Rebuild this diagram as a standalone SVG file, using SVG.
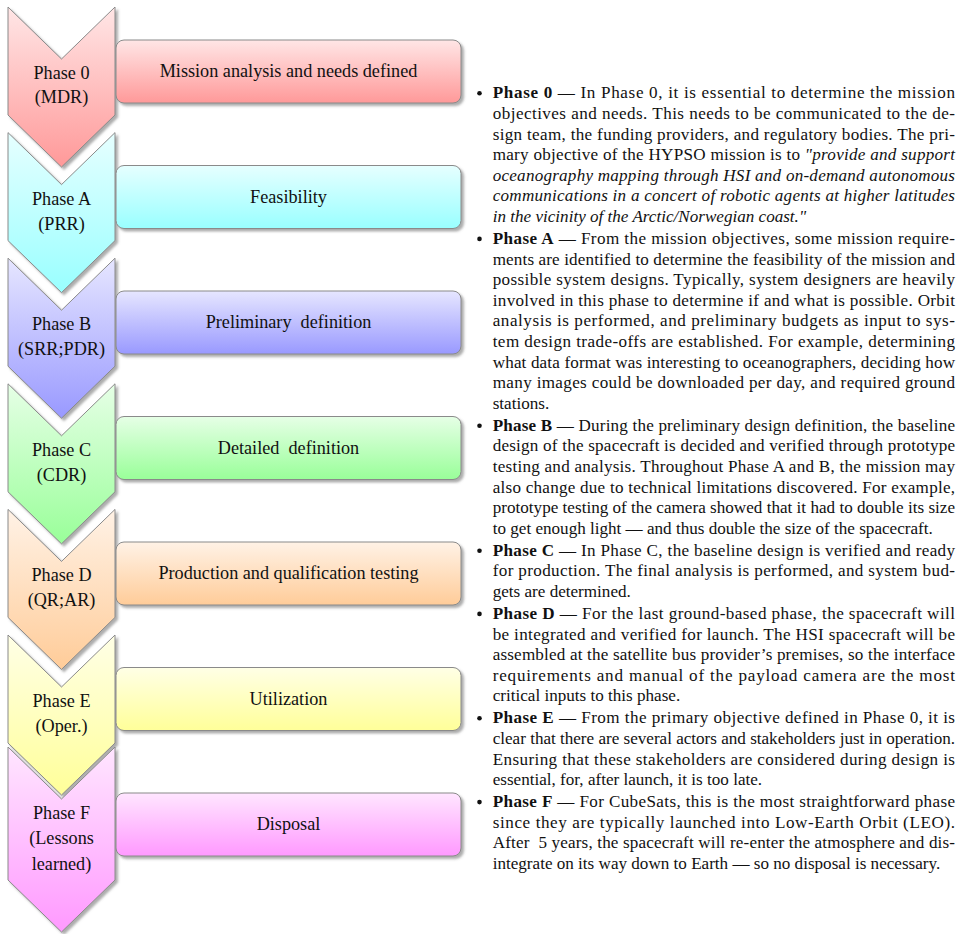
<svg xmlns="http://www.w3.org/2000/svg" width="961" height="934" viewBox="0 0 961 934">
  <defs>
    <filter id="shadow" x="-10%" y="-10%" width="130%" height="130%">
      <feDropShadow dx="2.5" dy="2.5" stdDeviation="0.9" flood-color="#6a6a6a" flood-opacity="0.55"/>
    </filter>
    <linearGradient id="g-red" x1="0" y1="0" x2="0" y2="1"><stop offset="0" stop-color="#FFE6E6"/><stop offset="1" stop-color="#FF9999"/></linearGradient>
    <linearGradient id="g-cyan" x1="0" y1="0" x2="0" y2="1"><stop offset="0" stop-color="#E6FFFF"/><stop offset="1" stop-color="#99FFFF"/></linearGradient>
    <linearGradient id="g-blue" x1="0" y1="0" x2="0" y2="1"><stop offset="0" stop-color="#E6E6FF"/><stop offset="1" stop-color="#9999FF"/></linearGradient>
    <linearGradient id="g-green" x1="0" y1="0" x2="0" y2="1"><stop offset="0" stop-color="#E6FFE6"/><stop offset="1" stop-color="#99FF99"/></linearGradient>
    <linearGradient id="g-orange" x1="0" y1="0" x2="0" y2="1"><stop offset="0" stop-color="#FFF2E6"/><stop offset="1" stop-color="#FFCC99"/></linearGradient>
    <linearGradient id="g-yellow" x1="0" y1="0" x2="0" y2="1"><stop offset="0" stop-color="#FFFFE6"/><stop offset="1" stop-color="#FFFF99"/></linearGradient>
    <linearGradient id="g-magenta" x1="0" y1="0" x2="0" y2="1"><stop offset="0" stop-color="#FFE6FF"/><stop offset="1" stop-color="#FF99FF"/></linearGradient>
  </defs>
  <style>
    .shape { stroke: #8a8a8a; stroke-width: 1; filter: url(#shadow); }
    .lbl { font-family: "Liberation Serif", "Times New Roman", serif; font-size: 18.2px; fill: #111; text-anchor: middle; white-space: pre; }
    .body { font-family: "Liberation Serif", "Times New Roman", serif; font-size: 17.1px; fill: #111; }
    .bul { fill: #111; }
    .b { font-weight: bold; }
    .i { font-style: italic; }
  </style>
  <rect width="961" height="934" fill="#fff"/>

  <!-- phase chevrons, drawn top to bottom -->
  <g id="chevron-0">
    <path class="shape" fill="url(#g-red)" d="M8,7 L61.5,59 L115,7 L115,115 L61.5,167 L8,115 Z"/>
    <text class="lbl" x="61.5" y="79">Phase 0</text>
    <text class="lbl" x="61.5" y="103">(MDR)</text>
  </g>
  <g id="chevron-a">
    <path class="shape" fill="url(#g-cyan)" d="M8,132.6 L61.5,184.6 L115,132.6 L115,240.6 L61.5,292.6 L8,240.6 Z"/>
    <text class="lbl" x="61.5" y="204.6">Phase A</text>
    <text class="lbl" x="61.5" y="229.6">(PRR)</text>
  </g>
  <g id="chevron-b">
    <path class="shape" fill="url(#g-blue)" d="M8,258.2 L61.5,310.2 L115,258.2 L115,366.2 L61.5,418.2 L8,366.2 Z"/>
    <text class="lbl" x="61.5" y="330.2">Phase B</text>
    <text class="lbl" x="61.5" y="355.2">(SRR;PDR)</text>
  </g>
  <g id="chevron-c">
    <path class="shape" fill="url(#g-green)" d="M8,383.8 L61.5,435.8 L115,383.8 L115,491.8 L61.5,543.8 L8,491.8 Z"/>
    <text class="lbl" x="61.5" y="455.8">Phase C</text>
    <text class="lbl" x="61.5" y="480.8">(CDR)</text>
  </g>
  <g id="chevron-d">
    <path class="shape" fill="url(#g-orange)" d="M8,509.4 L61.5,561.4 L115,509.4 L115,617.4 L61.5,669.4 L8,617.4 Z"/>
    <text class="lbl" x="61.5" y="581.4">Phase D</text>
    <text class="lbl" x="61.5" y="606.4">(QR;AR)</text>
  </g>
  <g id="chevron-e">
    <path class="shape" fill="url(#g-yellow)" d="M8,635 L61.5,687 L115,635 L115,743 L61.5,795 L8,743 Z"/>
    <text class="lbl" x="61.5" y="707">Phase E</text>
    <text class="lbl" x="61.5" y="732">(Oper.)</text>
  </g>
  <g id="chevron-f">
    <path class="shape" fill="url(#g-magenta)" d="M8,747 L61.5,799 L115,747 L115,880 L61.5,932 L8,880 Z"/>
    <text class="lbl" x="61.5" y="818.5">Phase F</text>
    <text class="lbl" x="61.5" y="844">(Lessons</text>
    <text class="lbl" x="61.5" y="869.5">learned)</text>
  </g>

  <!-- activity boxes beside each chevron -->
  <g id="box-0">
    <rect class="shape" fill="url(#g-red)" x="116" y="40" width="345" height="63" rx="8"/>
    <text class="lbl" x="288.5" y="77">Mission analysis and needs defined</text>
  </g>
  <g id="box-a">
    <rect class="shape" fill="url(#g-cyan)" x="116" y="165.5" width="345" height="63" rx="8"/>
    <text class="lbl" x="288.5" y="202.5">Feasibility</text>
  </g>
  <g id="box-b">
    <rect class="shape" fill="url(#g-blue)" x="116" y="291" width="345" height="63" rx="8"/>
    <text class="lbl" x="288.5" y="328">Preliminary  definition</text>
  </g>
  <g id="box-c">
    <rect class="shape" fill="url(#g-green)" x="116" y="416.5" width="345" height="63" rx="8"/>
    <text class="lbl" x="288.5" y="453.5">Detailed  definition</text>
  </g>
  <g id="box-d">
    <rect class="shape" fill="url(#g-orange)" x="116" y="542" width="345" height="63" rx="8"/>
    <text class="lbl" x="288.5" y="579">Production and qualification testing</text>
  </g>
  <g id="box-e">
    <rect class="shape" fill="url(#g-yellow)" x="116" y="667.5" width="345" height="63" rx="8"/>
    <text class="lbl" x="288.5" y="704.5">Utilization</text>
  </g>
  <g id="box-f">
    <rect class="shape" fill="url(#g-magenta)" x="116" y="793" width="345" height="63" rx="8"/>
    <text class="lbl" x="288.5" y="830">Disposal</text>
  </g>

  <g id="connectors"/>

  <!-- itemized description, justified lines use textLength -->
  <g id="description">
    <circle class="bul" cx="479.5" cy="93.3" r="2.3"/>
    <text class="body" x="492.7" y="98.3" textLength="462.3" lengthAdjust="spacing"><tspan class="b">Phase 0</tspan> — In Phase 0, it is essential to determine the mission</text>
    <text class="body" x="492.7" y="118.9" textLength="462.3" lengthAdjust="spacing">objectives and needs. This needs to be communicated to the de-</text>
    <text class="body" x="492.7" y="139.5" textLength="462.3" lengthAdjust="spacing">sign team, the funding providers, and regulatory bodies. The pri-</text>
    <text class="body" x="492.7" y="160.1" textLength="462.3" lengthAdjust="spacing">mary objective of the HYPSO mission is to <tspan class="i">"provide and support</tspan></text>
    <text class="body i" x="492.7" y="180.7" textLength="462.3" lengthAdjust="spacing">oceanography mapping through HSI and on-demand autonomous</text>
    <text class="body i" x="492.7" y="201.3" textLength="462.3" lengthAdjust="spacing">communications in a concert of robotic agents at higher latitudes</text>
    <text class="body i" x="492.7" y="221.9">in the vicinity of the Arctic/Norwegian coast."</text>

    <circle class="bul" cx="479.5" cy="238.9" r="2.3"/>
    <text class="body" x="492.7" y="243.9" textLength="462.3" lengthAdjust="spacing"><tspan class="b">Phase A</tspan> — From the mission objectives, some mission require-</text>
    <text class="body" x="492.7" y="264.5" textLength="462.3" lengthAdjust="spacing">ments are identified to determine the feasibility of the mission and</text>
    <text class="body" x="492.7" y="285.1" textLength="462.3" lengthAdjust="spacing">possible system designs. Typically, system designers are heavily</text>
    <text class="body" x="492.7" y="305.7" textLength="462.3" lengthAdjust="spacing">involved in this phase to determine if and what is possible. Orbit</text>
    <text class="body" x="492.7" y="326.3" textLength="462.3" lengthAdjust="spacing">analysis is performed, and preliminary budgets as input to sys-</text>
    <text class="body" x="492.7" y="346.9" textLength="462.3" lengthAdjust="spacing">tem design trade-offs are established. For example, determining</text>
    <text class="body" x="492.7" y="367.5" textLength="462.3" lengthAdjust="spacing">what data format was interesting to oceanographers, deciding how</text>
    <text class="body" x="492.7" y="388.1" textLength="462.3" lengthAdjust="spacing">many images could be downloaded per day, and required ground</text>
    <text class="body" x="492.7" y="408.7">stations.</text>

    <circle class="bul" cx="479.5" cy="425.7" r="2.3"/>
    <text class="body" x="492.7" y="430.7" textLength="462.3" lengthAdjust="spacing"><tspan class="b">Phase B</tspan> — During the preliminary design definition, the baseline</text>
    <text class="body" x="492.7" y="451.3" textLength="462.3" lengthAdjust="spacing">design of the spacecraft is decided and verified through prototype</text>
    <text class="body" x="492.7" y="471.9" textLength="462.3" lengthAdjust="spacing">testing and analysis. Throughout Phase A and B, the mission may</text>
    <text class="body" x="492.7" y="492.5" textLength="462.3" lengthAdjust="spacing">also change due to technical limitations discovered. For example,</text>
    <text class="body" x="492.7" y="513.1" textLength="462.3" lengthAdjust="spacing">prototype testing of the camera showed that it had to double its size</text>
    <text class="body" x="492.7" y="533.7">to get enough light — and thus double the size of the spacecraft.</text>

    <circle class="bul" cx="479.5" cy="550.7" r="2.3"/>
    <text class="body" x="492.7" y="555.7" textLength="462.3" lengthAdjust="spacing"><tspan class="b">Phase C</tspan> — In Phase C, the baseline design is verified and ready</text>
    <text class="body" x="492.7" y="576.3" textLength="462.3" lengthAdjust="spacing">for production. The final analysis is performed, and system bud-</text>
    <text class="body" x="492.7" y="596.9">gets are determined.</text>

    <circle class="bul" cx="479.5" cy="613.9" r="2.3"/>
    <text class="body" x="492.7" y="618.9" textLength="462.3" lengthAdjust="spacing"><tspan class="b">Phase D</tspan> — For the last ground-based phase, the spacecraft will</text>
    <text class="body" x="492.7" y="639.5" textLength="462.3" lengthAdjust="spacing">be integrated and verified for launch. The HSI spacecraft will be</text>
    <text class="body" x="492.7" y="660.1" textLength="462.3" lengthAdjust="spacing">assembled at the satellite bus provider’s premises, so the interface</text>
    <text class="body" x="492.7" y="680.7" textLength="462.3" lengthAdjust="spacing">requirements and manual of the payload camera are the most</text>
    <text class="body" x="492.7" y="701.3">critical inputs to this phase.</text>

    <circle class="bul" cx="479.5" cy="718.3" r="2.3"/>
    <text class="body" x="492.7" y="723.3" textLength="462.3" lengthAdjust="spacing"><tspan class="b">Phase E</tspan> — From the primary objective defined in Phase 0, it is</text>
    <text class="body" x="492.7" y="743.9" textLength="462.3" lengthAdjust="spacing">clear that there are several actors and stakeholders just in operation.</text>
    <text class="body" x="492.7" y="764.5" textLength="462.3" lengthAdjust="spacing">Ensuring that these stakeholders are considered during design is</text>
    <text class="body" x="492.7" y="785.1">essential, for, after launch, it is too late.</text>

    <circle class="bul" cx="479.5" cy="802.1" r="2.3"/>
    <text class="body" x="492.7" y="807.1" textLength="462.3" lengthAdjust="spacing"><tspan class="b">Phase F</tspan> — For CubeSats, this is the most straightforward phase</text>
    <text class="body" x="492.7" y="827.7" textLength="462.3" lengthAdjust="spacing">since they are typically launched into Low-Earth Orbit (LEO).</text>
    <text class="body" x="492.7" y="848.3" textLength="462.3" lengthAdjust="spacing" style="white-space:pre">After  5 years, the spacecraft will re-enter the atmosphere and dis-</text>
    <text class="body" x="492.7" y="868.9">integrate on its way down to Earth — so no disposal is necessary.</text>
  </g>
</svg>
